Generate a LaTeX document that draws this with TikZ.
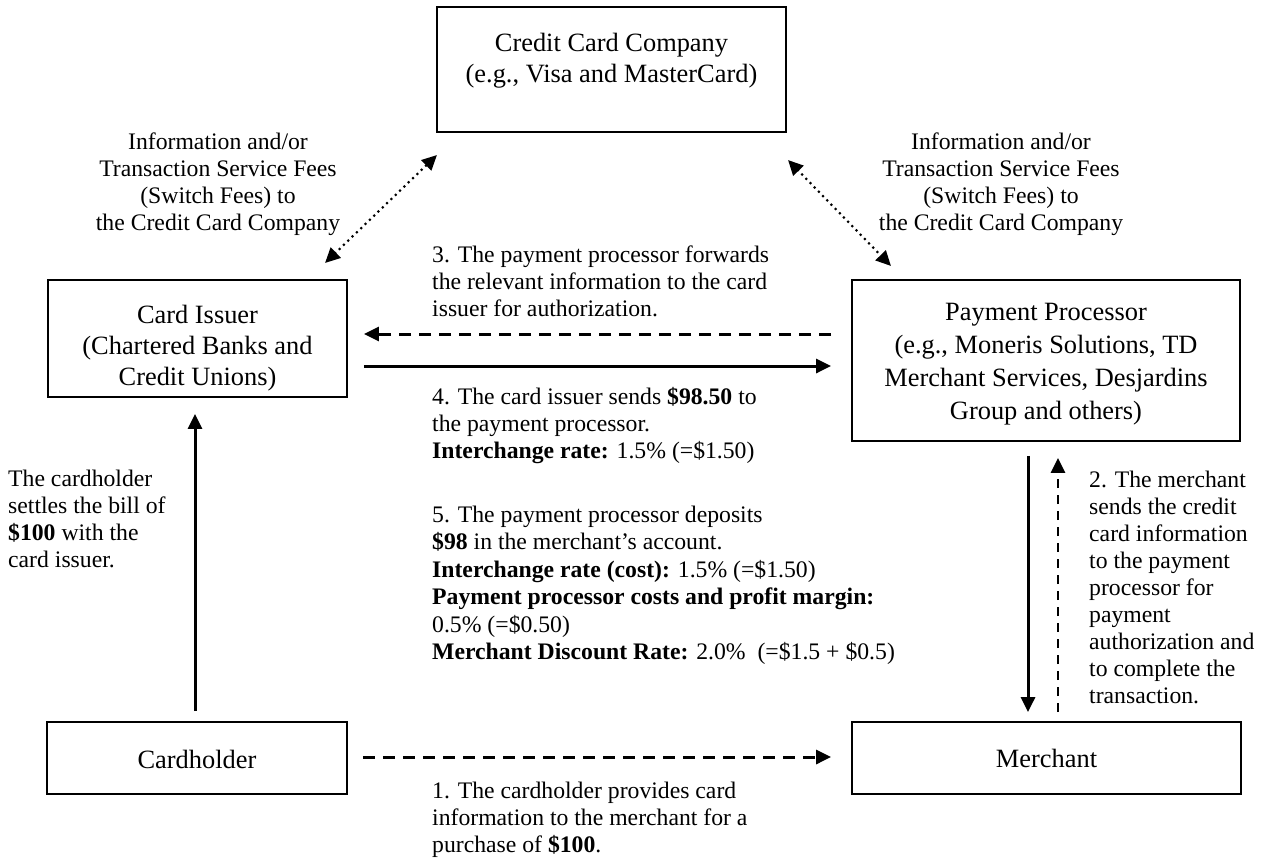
\documentclass[tikz,border=0pt]{standalone}
\usepackage{fontspec}
\setmainfont{Liberation Serif}
\usetikzlibrary{arrows.meta}
\begin{document}
\begin{tikzpicture}[x=1pt,y=-1pt,
  box/.style={draw,line width=1.8pt,inner sep=0pt},
  btxt/.style={inner sep=0pt,anchor=north,align=center,font=\fontsize{26.4}{31}\selectfont},
  lbl/.style={inner sep=0pt,anchor=north west,align=left,font=\fontsize{23.7}{27}\selectfont},
  clbl/.style={inner sep=0pt,anchor=north,align=center,font=\fontsize{23.7}{27}\selectfont},
  tip/.style={-{Triangle[length=15pt,width=14pt]}},
  arr/.style={line width=3pt,tip},
  dsh/.style={dash pattern=on 12pt off 8pt},
  vdsh/.style={line width=2.8pt,dash pattern=on 9pt off 7pt},
  dotarr/.style={line width=3pt,line cap=round,dash pattern=on 0pt off 6pt,
     {Triangle[length=15pt,width=14pt]}-{Triangle[length=15pt,width=14pt]}}]
\useasboundingbox (0,0) rectangle (1266,859);
\fill[white] (0,0) rectangle (1266,859);

% boxes
\node[box,minimum width=349pt,minimum height=125pt] (ccc) at (611.5,69.5) {};
\node[box,minimum width=299pt,minimum height=117pt] (issuer) at (197.5,338.5) {};
\node[box,minimum width=388pt,minimum height=161pt] (proc) at (1046,360.5) {};
\node[box,minimum width=300pt,minimum height=72pt] (holder) at (197,758) {};
\node[box,minimum width=389pt,minimum height=72pt] (merch) at (1046.5,758) {};

% box texts
\node[btxt] (ccct) at (611.5,32.8) {Credit Card Company\\(e.g., Visa and MasterCard)};
\node[btxt] (issuert) at (197.5,304.8) {Card Issuer\\(Chartered Banks and\\Credit Unions)};
\node[btxt,font=\fontsize{26.4}{32.7}\selectfont] (proct) at (1046,303.5) {Payment Processor\\(e.g., Moneris Solutions, TD\\Merchant Services, Desjardins\\Group and others)};
\node[btxt] (holdert) at (197,749.8) {Cardholder};
\node[btxt] (mercht) at (1046.5,748.8) {Merchant};

% labels
\node[clbl] (feesL) at (218,133) {Information and/or\\Transaction Service Fees\\(Switch Fees) to\\the Credit Card Company};
\node[clbl] (feesR) at (1001,133) {Information and/or\\Transaction Service Fees\\(Switch Fees) to\\the Credit Card Company};
\node[lbl] (l3) at (432,245.6) {3. The payment processor forwards\\the relevant information to the card\\issuer for authorization.};
\node[lbl] (l4) at (432,387.6) {4. The card issuer sends \textbf{\$98.50} to\\the payment processor.\\\textbf{Interchange rate:} 1.5\% (=\$1.50)};
\node[lbl,font=\fontsize{23.7}{27.5}\selectfont] (l5) at (432,505.6) {5. The payment processor deposits\\\textbf{\$98} in the merchant’s account.\\\textbf{Interchange rate (cost):} 1.5\% (=\$1.50)\\\textbf{Payment processor costs and profit margin:}\\0.5\% (=\$0.50)\\\textbf{Merchant Discount Rate:} 2.0\%~~(=\$1.5 + \$0.5)};
\node[lbl] (l2) at (1089,470.6) {2. The merchant\\sends the credit\\card information\\to the payment\\processor for\\payment\\authorization and\\to complete the\\transaction.};
\node[lbl] (lh) at (8,470) {The cardholder\\settles the bill of\\\textbf{\$100} with the\\card issuer.};
\node[lbl] (l1) at (432,782) {1. The cardholder provides card\\information to the merchant for a\\purchase of \textbf{\$100}.};

% rows / columns for connectors
\coordinate (r3) at (0,334);
\coordinate (r4) at (0,366);
\coordinate (r1) at (0,757);
\coordinate (c1) at (1028,0);
\coordinate (c2) at (1058,0);
\coordinate (c0) at (195,0);
\coordinate (dLa) at (325,263);
\coordinate (dLb) at (437,155);
\coordinate (dRa) at (788,160);
\coordinate (dRb) at (891,266);

% connectors
\draw[arr,dsh,shorten <=20pt,shorten >=16pt] (proc.west |- r3) -- (issuer.east |- r3);
\draw[arr,shorten <=16pt,shorten >=20pt] (issuer.east |- r4) -- (proc.west |- r4);
\draw[arr,shorten <=10pt,shorten >=16pt] (c0 |- holder.north) -- (c0 |- issuer.south);
\draw[arr,shorten <=14pt,shorten >=9pt] (c1 |- proc.south) -- (c1 |- merch.north);
\draw[arr,vdsh,shorten <=9pt,shorten >=16pt] (c2 |- merch.north) -- (c2 |- proc.south);
\draw[arr,dsh,shorten <=15pt,shorten >=20pt] (holder.east |- r1) -- (merch.west |- r1);
\draw[dotarr] (dLa) -- (dLb);
\draw[dotarr] (dRa) -- (dRb);
\end{tikzpicture}
\end{document}
